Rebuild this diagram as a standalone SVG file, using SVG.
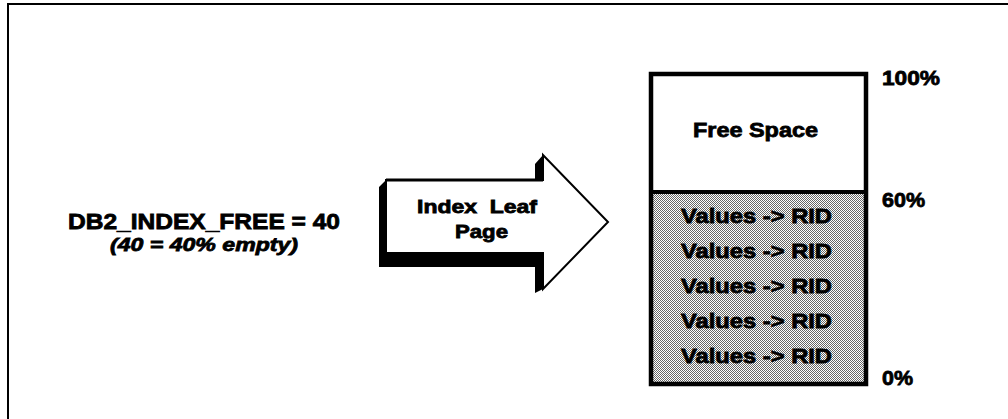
<svg xmlns="http://www.w3.org/2000/svg" width="1008" height="419" viewBox="0 0 1008 419">
<style>
.t{font-family:"Liberation Sans",Arial,sans-serif;font-weight:bold;fill:#000;stroke:#000;stroke-width:0.8}
.it{font-style:italic}
</style>
<defs>
<pattern id="dots" width="2" height="2" patternUnits="userSpaceOnUse">
<rect width="2" height="2" fill="#fff"/>
<rect width="1" height="1" fill="#666"/>
<rect x="1" y="1" width="1" height="1" fill="#666"/>
</pattern>
</defs>
<rect width="1008" height="419" fill="#fff"/>
<rect id="frame" x="8" y="4" width="1010" height="425" fill="none" stroke="#000" stroke-width="2"/>
<g id="setting">
<text class="t" x="68" y="229" font-size="22" textLength="272" lengthAdjust="spacingAndGlyphs">DB2_INDEX_FREE = 40</text>
<text class="t it" x="110" y="251" font-size="19" textLength="188" lengthAdjust="spacingAndGlyphs">(40 = 40% empty)</text>
</g>
<g id="arrow">
<polygon points="379,187 386,180 535,180 535,164 543,155 543,289 535,293 535,267 379,267" fill="#000"/>
<polygon points="386,180 543,180 543,155 608,222 543,289 543,253 386,253" fill="#fff" stroke="#000" stroke-width="2" stroke-linejoin="miter"/>
<line x1="386" y1="180" x2="543" y2="180" stroke="#000" stroke-width="3"/>
<text class="t" x="417" y="213" font-size="19" textLength="120" lengthAdjust="spacingAndGlyphs" style="white-space:pre">Index  Leaf</text>
<text class="t" x="455" y="238" font-size="19" textLength="53" lengthAdjust="spacingAndGlyphs">Page</text>
</g>
<g id="page">
<rect x="651" y="74" width="215" height="118" fill="#fff"/>
<rect x="651" y="192" width="215" height="192" fill="url(#dots)"/>
<rect x="651" y="74" width="215" height="310" fill="none" stroke="#000" stroke-width="4.5"/>
<line x1="651" y1="192" x2="866" y2="192" stroke="#000" stroke-width="4"/>
<text class="t" x="693" y="137" font-size="21" textLength="125" lengthAdjust="spacingAndGlyphs">Free Space</text>
<text class="t" x="681" y="223" font-size="21" textLength="151" lengthAdjust="spacingAndGlyphs">Values -&gt; RID</text>
<text class="t" x="681" y="258" font-size="21" textLength="151" lengthAdjust="spacingAndGlyphs">Values -&gt; RID</text>
<text class="t" x="681" y="293" font-size="21" textLength="151" lengthAdjust="spacingAndGlyphs">Values -&gt; RID</text>
<text class="t" x="681" y="328" font-size="21" textLength="151" lengthAdjust="spacingAndGlyphs">Values -&gt; RID</text>
<text class="t" x="681" y="363" font-size="21" textLength="151" lengthAdjust="spacingAndGlyphs">Values -&gt; RID</text>
</g>
<g id="scale">
<text class="t" x="882" y="85" font-size="21" textLength="58" lengthAdjust="spacingAndGlyphs">100%</text>
<text class="t" x="882" y="207" font-size="21" textLength="43" lengthAdjust="spacingAndGlyphs">60%</text>
<text class="t" x="882" y="385" font-size="21" textLength="31" lengthAdjust="spacingAndGlyphs">0%</text>
</g>
<g id="connectors"/>
</svg>
